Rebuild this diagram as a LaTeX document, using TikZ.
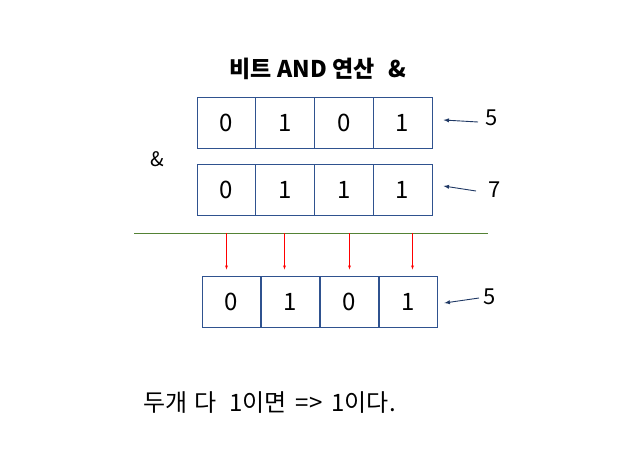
\documentclass[tikz,border=0pt]{standalone}
\usepackage{fontspec}
\setmainfont{Noto Sans CJK KR}
\definecolor{boxblue}{RGB}{47,82,143}
\definecolor{rulegreen}{RGB}{84,130,53}
\definecolor{tipnavy}{RGB}{31,56,100}
\tikzset{
  cell/.style={draw=boxblue,line width=1pt,minimum width=58.75pt,minimum height=51pt,inner sep=0pt,font=\fontsize{24}{24}\selectfont},
  num/.style={font=\fontsize{22}{22}\selectfont},
  tip/.style={->,tipnavy,line width=0.9pt}
}
\begin{document}
\begin{tikzpicture}[x=1pt,y=-1pt,>=latex]
    \useasboundingbox (0,0) rectangle (629,469);
    \node[font=\fontsize{23}{23}\selectfont\bfseries] (title) at (318,69) {비트 AND 연산\hspace{14pt}\&};
    \node[font=\fontsize{20}{20}\selectfont] (amp) at (157,159) {\&};
    % operands and result
    \foreach \b [count=\i] in {0,1,0,1}
        \node[cell] (a\i) at (197+58.75*\i-29.375,122.5) {\b};
    \foreach \b [count=\i] in {0,1,1,1}
        \node[cell] (b\i) at (197+58.75*\i-29.375,189.5) {\b};
    \foreach \b [count=\i] in {0,1,0,1}
        \node[cell] (c\i) at (202+59*\i-29.5,301.5) {\b};
    \draw[rulegreen] (134,233) coordinate (rl) -- (488,233) coordinate (rr);
    \foreach \i/\dx in {1/-5,2/-6,3/0,4/4}
        \draw[->,red] ([xshift=\dx pt]c\i.north |- rl) -- ([xshift=\dx pt,yshift=6pt]c\i.north);
    % values
    \node[num] (va) at (492,118) {5};
    \node[num] (vb) at (495,190) {7};
    \node[num] (vc) at (490,297) {5};
    \coordinate (ta) at (478,122);
    \coordinate (tb) at (476,191);
    \coordinate (tc) at (479,298);
    \draw[tip] (ta) -- ([xshift=11pt,yshift=2.5pt]a4.east);
    \draw[tip] (tb) -- ([xshift=11pt,yshift=3.5pt]b4.east);
    \draw[tip] (tc) -- ([xshift=6pt,yshift=-1.5pt]c4.east);
    \node[font=\fontsize{24}{24}\selectfont,anchor=west,inner sep=0pt] (rule) at (143,403) {두개\hspace{7pt}다\hspace{13pt}1이면\hspace{9pt}=>\hspace{9pt}1이다.};
\end{tikzpicture}
\end{document}
